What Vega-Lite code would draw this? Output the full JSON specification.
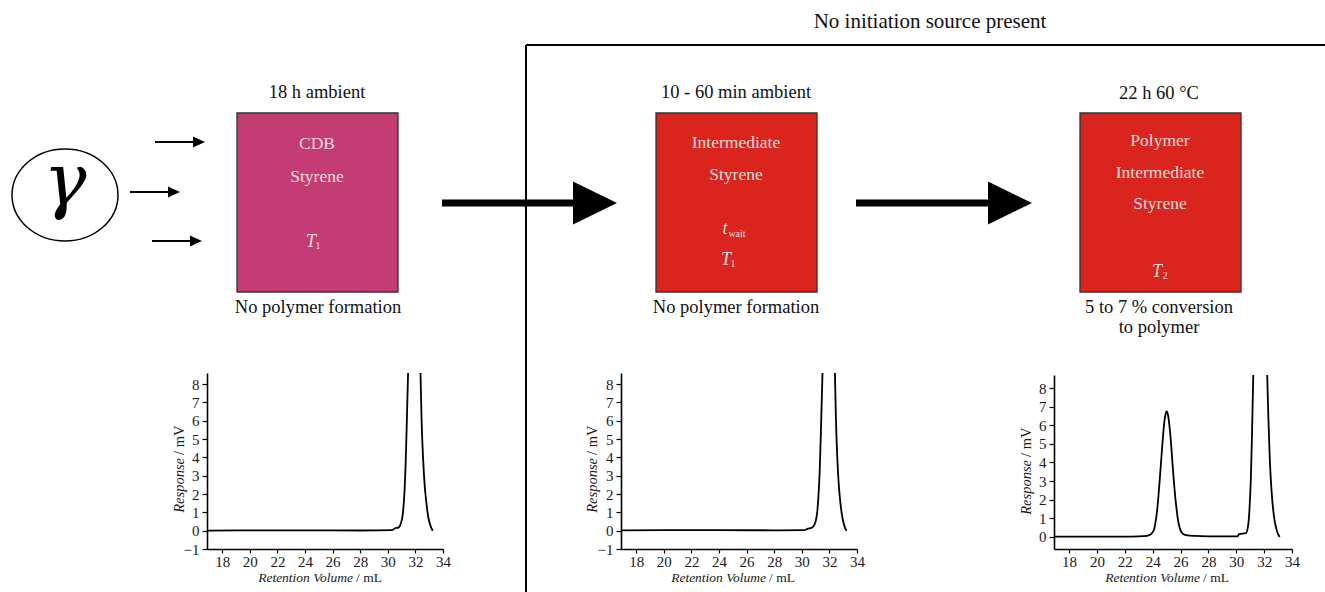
{
  "$schema": "https://vega.github.io/schema/vega-lite/v6.json",
  "width": 1325,
  "height": 592,
  "autosize": "none",
  "padding": 0,
  "background": "white",
  "config": {
    "view": {"stroke": null},
    "font": "Liberation Serif",
    "axis": {
      "domainColor": "black",
      "domainWidth": 1.6,
      "tickColor": "black",
      "tickWidth": 1.2,
      "labelFont": "Liberation Serif",
      "labelFontSize": 15,
      "labelColor": "#1a1a1a",
      "grid": false,
      "labelFlush": false,
      "labelOverlap": false,
      "title": null
    }
  },
  "datasets": {
    "frame": [
      {"x": 526, "y": 45, "x2": 1325, "y2": 45},
      {"x": 526, "y": 45, "x2": 526, "y2": 592}
    ],
    "boxes": [
      {"kind": "CDB", "x": 237, "x2": 398, "y": 113, "y2": 292},
      {"kind": "Intermediate", "x": 656, "x2": 817, "y": 113, "y2": 292},
      {"kind": "Intermediate", "x": 1080, "x2": 1241, "y": 113, "y2": 292}
    ],
    "shaftsSmall": [
      {"x": 155, "x2": 199, "y": 142},
      {"x": 130, "x2": 174, "y": 192},
      {"x": 152, "x2": 196, "y": 241}
    ],
    "headsSmall": [
      {"x": 199, "y": 142},
      {"x": 174, "y": 192},
      {"x": 196, "y": 241}
    ],
    "shaftsBig": [
      {"x": 442, "x2": 590, "y": 203},
      {"x": 856, "x2": 1005, "y": 203}
    ],
    "headsBig": [
      {"x": 595, "y": 203},
      {"x": 1010, "y": 203}
    ],
    "source": [{"x": 65, "y": 195, "t": "γ"}],
    "headline": [{"x": 930, "y": 22, "t": "No initiation source present"}],
    "captions": [
      {"x": 317, "y": 92, "t": "18 h ambient"},
      {"x": 318, "y": 307, "t": "No polymer formation"},
      {"x": 736, "y": 92, "t": "10 - 60 min ambient"},
      {"x": 736, "y": 307, "t": "No polymer formation"},
      {"x": 1159, "y": 93, "t": "22 h 60 °C"},
      {"x": 1159, "y": 307, "t": "5 to 7 % conversion"},
      {"x": 1159, "y": 327, "t": "to polymer"}
    ],
    "boxText": [
      {"x": 317, "y": 144, "t": "CDB"},
      {"x": 317, "y": 177, "t": "Styrene"},
      {"x": 736, "y": 143, "t": "Intermediate"},
      {"x": 736, "y": 175, "t": "Styrene"},
      {"x": 1160, "y": 141, "t": "Polymer"},
      {"x": 1160, "y": 173, "t": "Intermediate"},
      {"x": 1160, "y": 204, "t": "Styrene"}
    ],
    "boxSymbols": [
      {"x": 311, "y": 242, "t": "T"},
      {"x": 725, "y": 229, "t": "t"},
      {"x": 726, "y": 260, "t": "T"},
      {"x": 1157, "y": 272, "t": "T"}
    ],
    "boxSubscripts": [
      {"x": 318, "y": 246, "t": "1"},
      {"x": 737, "y": 234, "t": "wait"},
      {"x": 733, "y": 264, "t": "1"},
      {"x": 1165, "y": 276, "t": "2"}
    ],
    "xTitleItalic": [
      {"x": 353, "y": 578, "t": "Retention Volume"},
      {"x": 766, "y": 578, "t": "Retention Volume"},
      {"x": 1200, "y": 578, "t": "Retention Volume"}
    ],
    "xTitleRoman": [
      {"x": 356, "y": 578, "t": "/ mL"},
      {"x": 769, "y": 578, "t": "/ mL"},
      {"x": 1203, "y": 578, "t": "/ mL"}
    ],
    "yTitleItalic": [
      {"x": 180, "y": 458, "t": "Response"},
      {"x": 593, "y": 458, "t": "Response"},
      {"x": 1027, "y": 460, "t": "Response"}
    ],
    "yTitleRoman": [
      {"x": 180, "y": 455, "t": "/ mV"},
      {"x": 593, "y": 455, "t": "/ mV"},
      {"x": 1027, "y": 457, "t": "/ mV"}
    ],
    "gpc1": [
      {"s": "a", "v": 16.9, "r": 0},
      {"s": "a", "v": 20, "r": 0.02},
      {"s": "a", "v": 24, "r": 0.02},
      {"s": "a", "v": 28, "r": 0.01},
      {"s": "a", "v": 30.3, "r": 0.03},
      {"s": "a", "v": 30.5, "r": 0.12},
      {"s": "a", "v": 30.8, "r": 0.18},
      {"s": "a", "v": 30.95, "r": 0.4},
      {"s": "a", "v": 31.1, "r": 1.0},
      {"s": "a", "v": 31.2, "r": 2.0},
      {"s": "a", "v": 31.3, "r": 3.8},
      {"s": "a", "v": 31.38, "r": 6.0},
      {"s": "a", "v": 31.47, "r": 8.6},
      {"s": "b", "v": 32.37, "r": 8.6},
      {"s": "b", "v": 32.45, "r": 6.0},
      {"s": "b", "v": 32.56, "r": 3.9},
      {"s": "b", "v": 32.68, "r": 2.4},
      {"s": "b", "v": 32.8, "r": 1.5},
      {"s": "b", "v": 32.92, "r": 0.8},
      {"s": "b", "v": 33.04, "r": 0.4},
      {"s": "b", "v": 33.15, "r": 0.15},
      {"s": "b", "v": 33.26, "r": 0}
    ],
    "gpc2": [
      {"s": "a", "v": 16.9, "r": 0.02},
      {"s": "a", "v": 20, "r": 0.03},
      {"s": "a", "v": 24, "r": 0.03},
      {"s": "a", "v": 28, "r": 0.02},
      {"s": "a", "v": 30.2, "r": 0.03},
      {"s": "a", "v": 30.4, "r": 0.1},
      {"s": "a", "v": 30.7, "r": 0.15},
      {"s": "a", "v": 30.9, "r": 0.3},
      {"s": "a", "v": 31.1, "r": 0.9},
      {"s": "a", "v": 31.2, "r": 1.8},
      {"s": "a", "v": 31.3, "r": 3.3},
      {"s": "a", "v": 31.4, "r": 5.8},
      {"s": "a", "v": 31.5, "r": 8.6},
      {"s": "b", "v": 32.4, "r": 8.6},
      {"s": "b", "v": 32.47, "r": 6.2},
      {"s": "b", "v": 32.57, "r": 4.0},
      {"s": "b", "v": 32.68, "r": 2.5},
      {"s": "b", "v": 32.8, "r": 1.5},
      {"s": "b", "v": 32.92, "r": 0.8},
      {"s": "b", "v": 33.05, "r": 0.35},
      {"s": "b", "v": 33.15, "r": 0.12},
      {"s": "b", "v": 33.24, "r": 0}
    ],
    "gpc3": [
      {"s": "a", "v": 16.92, "r": 0.02},
      {"s": "a", "v": 20, "r": 0.02},
      {"s": "a", "v": 22, "r": 0.02},
      {"s": "a", "v": 23, "r": 0.03},
      {"s": "a", "v": 23.6, "r": 0.06},
      {"s": "a", "v": 23.8, "r": 0.11},
      {"s": "a", "v": 24.0, "r": 0.25},
      {"s": "a", "v": 24.1, "r": 0.4},
      {"s": "a", "v": 24.2, "r": 0.75},
      {"s": "a", "v": 24.3, "r": 1.3},
      {"s": "a", "v": 24.4, "r": 2.05},
      {"s": "a", "v": 24.5, "r": 3.0},
      {"s": "a", "v": 24.6, "r": 4.0},
      {"s": "a", "v": 24.7, "r": 5.0},
      {"s": "a", "v": 24.8, "r": 5.9},
      {"s": "a", "v": 24.9, "r": 6.5},
      {"s": "a", "v": 25.0, "r": 6.75},
      {"s": "a", "v": 25.1, "r": 6.55},
      {"s": "a", "v": 25.2, "r": 6.0},
      {"s": "a", "v": 25.3, "r": 5.2},
      {"s": "a", "v": 25.4, "r": 4.2},
      {"s": "a", "v": 25.5, "r": 3.2},
      {"s": "a", "v": 25.6, "r": 2.3},
      {"s": "a", "v": 25.7, "r": 1.6},
      {"s": "a", "v": 25.8, "r": 1.0},
      {"s": "a", "v": 25.9, "r": 0.6},
      {"s": "a", "v": 26.0, "r": 0.35},
      {"s": "a", "v": 26.2, "r": 0.15},
      {"s": "a", "v": 26.5, "r": 0.08},
      {"s": "a", "v": 27, "r": 0.05},
      {"s": "a", "v": 28, "r": 0.03},
      {"s": "a", "v": 30.1, "r": 0.03},
      {"s": "a", "v": 30.2, "r": 0.15},
      {"s": "a", "v": 30.7, "r": 0.2},
      {"s": "a", "v": 30.85, "r": 0.6},
      {"s": "a", "v": 30.95, "r": 1.5},
      {"s": "a", "v": 31.05, "r": 3.2},
      {"s": "a", "v": 31.13, "r": 5.5},
      {"s": "a", "v": 31.22, "r": 8.7},
      {"s": "b", "v": 32.22, "r": 8.7},
      {"s": "b", "v": 32.3, "r": 6.5},
      {"s": "b", "v": 32.41, "r": 4.1},
      {"s": "b", "v": 32.53, "r": 2.5},
      {"s": "b", "v": 32.65, "r": 1.45},
      {"s": "b", "v": 32.77, "r": 0.8},
      {"s": "b", "v": 32.89, "r": 0.4},
      {"s": "b", "v": 33.0, "r": 0.15},
      {"s": "b", "v": 33.12, "r": 0}
    ]
  },
  "resolve": {
    "scale": {"x": "independent", "y": "independent"},
    "axis": {"x": "independent", "y": "independent"}
  },
  "layer": [
    {
      "layer": [
        {
          "data": {"name": "boxes"},
          "mark": {"type": "rect", "stroke": "#333333", "strokeWidth": 1.3},
          "encoding": {
            "x": {"field": "x", "type": "quantitative", "scale": {"domain": [0, 1325], "range": [0, 1325], "nice": false, "zero": false}, "axis": null},
            "x2": {"field": "x2"},
            "y": {"field": "y", "type": "quantitative", "scale": {"domain": [0, 592], "range": [0, 592], "nice": false, "zero": false}, "axis": null},
            "y2": {"field": "y2"},
            "color": {"field": "kind", "type": "nominal", "scale": {"domain": ["CDB", "Intermediate"], "range": ["#C33C73", "#D9251E"]}, "legend": null}
          }
        },
        {
          "data": {"name": "frame"},
          "mark": {"type": "rule", "color": "black", "strokeWidth": 2},
          "encoding": {
            "x": {"field": "x", "type": "quantitative", "scale": {"domain": [0, 1325], "range": [0, 1325], "nice": false, "zero": false}, "axis": null},
            "x2": {"field": "x2"},
            "y": {"field": "y", "type": "quantitative", "scale": {"domain": [0, 592], "range": [0, 592], "nice": false, "zero": false}, "axis": null},
            "y2": {"field": "y2"}
          }
        },
        {
          "data": {"name": "shaftsSmall"},
          "mark": {"type": "rule", "color": "black", "strokeWidth": 2},
          "encoding": {
            "x": {"field": "x", "type": "quantitative", "axis": null},
            "x2": {"field": "x2"},
            "y": {"field": "y", "type": "quantitative", "axis": null}
          }
        },
        {
          "data": {"name": "headsSmall"},
          "mark": {"type": "point", "shape": "M -1 -0.9 L 1 0 L -1 0.9 Z", "filled": true, "color": "black", "opacity": 1, "size": 144},
          "encoding": {
            "x": {"field": "x", "type": "quantitative", "axis": null},
            "y": {"field": "y", "type": "quantitative", "axis": null}
          }
        },
        {
          "data": {"name": "shaftsBig"},
          "mark": {"type": "rule", "color": "black", "strokeWidth": 7},
          "encoding": {
            "x": {"field": "x", "type": "quantitative", "axis": null},
            "x2": {"field": "x2"},
            "y": {"field": "y", "type": "quantitative", "axis": null}
          }
        },
        {
          "data": {"name": "headsBig"},
          "mark": {"type": "point", "shape": "M -1 -0.98 L 1 0 L -1 0.98 Z", "filled": true, "color": "black", "opacity": 1, "size": 1936},
          "encoding": {
            "x": {"field": "x", "type": "quantitative", "axis": null},
            "y": {"field": "y", "type": "quantitative", "axis": null}
          }
        },
        {
          "data": {"name": "source"},
          "mark": {"type": "point", "shape": "M -1 0 A 1 0.868 0 1 1 1 0 A 1 0.868 0 1 1 -1 0 Z", "filled": false, "stroke": "black", "strokeWidth": 1.5, "opacity": 1, "size": 11236},
          "encoding": {
            "x": {"field": "x", "type": "quantitative", "axis": null},
            "y": {"field": "y", "type": "quantitative", "axis": null}
          }
        },
        {
          "data": {"name": "source"},
          "mark": {"type": "text", "font": "DejaVu Serif", "fontSize": 72, "fontStyle": "italic", "color": "black", "baseline": "alphabetic", "align": "center", "dy": 10},
          "encoding": {
            "x": {"field": "x", "type": "quantitative", "axis": null},
            "y": {"field": "y", "type": "quantitative", "axis": null},
            "text": {"field": "t"}
          }
        },
        {
          "data": {"name": "headline"},
          "mark": {"type": "text", "font": "Liberation Serif", "fontSize": 21, "color": "#111111", "baseline": "middle", "align": "center"},
          "encoding": {
            "x": {"field": "x", "type": "quantitative", "axis": null},
            "y": {"field": "y", "type": "quantitative", "axis": null},
            "text": {"field": "t"}
          }
        },
        {
          "data": {"name": "captions"},
          "mark": {"type": "text", "font": "Liberation Serif", "fontSize": 18.5, "color": "#111111", "baseline": "middle", "align": "center"},
          "encoding": {
            "x": {"field": "x", "type": "quantitative", "axis": null},
            "y": {"field": "y", "type": "quantitative", "axis": null},
            "text": {"field": "t"}
          }
        },
        {
          "data": {"name": "boxText"},
          "mark": {"type": "text", "font": "Liberation Serif", "fontSize": 17.5, "color": "#F7DCDC", "baseline": "middle", "align": "center"},
          "encoding": {
            "x": {"field": "x", "type": "quantitative", "axis": null},
            "y": {"field": "y", "type": "quantitative", "axis": null},
            "text": {"field": "t"}
          }
        },
        {
          "data": {"name": "boxSymbols"},
          "mark": {"type": "text", "font": "Liberation Serif", "fontSize": 18, "fontStyle": "italic", "color": "#F7DCDC", "baseline": "middle", "align": "center"},
          "encoding": {
            "x": {"field": "x", "type": "quantitative", "axis": null},
            "y": {"field": "y", "type": "quantitative", "axis": null},
            "text": {"field": "t"}
          }
        },
        {
          "data": {"name": "boxSubscripts"},
          "mark": {"type": "text", "font": "Liberation Serif", "fontSize": 10, "color": "#F7DCDC", "baseline": "middle", "align": "center"},
          "encoding": {
            "x": {"field": "x", "type": "quantitative", "axis": null},
            "y": {"field": "y", "type": "quantitative", "axis": null},
            "text": {"field": "t"}
          }
        },
        {
          "data": {"name": "xTitleItalic"},
          "mark": {"type": "text", "font": "Liberation Serif", "fontSize": 13.5, "fontStyle": "italic", "color": "#1a1a1a", "baseline": "middle", "align": "right"},
          "encoding": {
            "x": {"field": "x", "type": "quantitative", "axis": null},
            "y": {"field": "y", "type": "quantitative", "axis": null},
            "text": {"field": "t"}
          }
        },
        {
          "data": {"name": "xTitleRoman"},
          "mark": {"type": "text", "font": "Liberation Serif", "fontSize": 13.5, "color": "#1a1a1a", "baseline": "middle", "align": "left"},
          "encoding": {
            "x": {"field": "x", "type": "quantitative", "axis": null},
            "y": {"field": "y", "type": "quantitative", "axis": null},
            "text": {"field": "t"}
          }
        },
        {
          "data": {"name": "yTitleItalic"},
          "mark": {"type": "text", "font": "Liberation Serif", "fontSize": 14.5, "fontStyle": "italic", "color": "#1a1a1a", "baseline": "middle", "align": "right", "angle": 270},
          "encoding": {
            "x": {"field": "x", "type": "quantitative", "axis": null},
            "y": {"field": "y", "type": "quantitative", "axis": null},
            "text": {"field": "t"}
          }
        },
        {
          "data": {"name": "yTitleRoman"},
          "mark": {"type": "text", "font": "Liberation Serif", "fontSize": 14.5, "color": "#1a1a1a", "baseline": "middle", "align": "left", "angle": 270},
          "encoding": {
            "x": {"field": "x", "type": "quantitative", "axis": null},
            "y": {"field": "y", "type": "quantitative", "axis": null},
            "text": {"field": "t"}
          }
        }
      ]
    },
    {
      "data": {"name": "gpc1"},
      "mark": {"type": "line", "color": "black", "strokeWidth": 1.8, "interpolate": "monotone"},
      "encoding": {
        "x": {"field": "v", "type": "quantitative", "scale": {"domain": [16.9, 34], "range": [207, 443], "nice": false, "zero": false},
              "axis": {"orient": "bottom", "offset": -43, "values": [18, 20, 22, 24, 26, 28, 30, 32, 34], "tickSize": 4, "labelPadding": 1, "labelFontSize": 15}},
        "y": {"field": "r", "type": "quantitative", "scale": {"domain": [-1, 8.6], "range": [549, 373], "nice": false, "zero": false},
              "axis": {"orient": "left", "offset": -207, "values": [-1, 0, 1, 2, 3, 4, 5, 6, 7, 8], "tickSize": 5, "labelPadding": 3, "labelFontSize": 15}},
        "detail": {"field": "s"}
      }
    },
    {
      "data": {"name": "gpc2"},
      "mark": {"type": "line", "color": "black", "strokeWidth": 1.8, "interpolate": "monotone"},
      "encoding": {
        "x": {"field": "v", "type": "quantitative", "scale": {"domain": [16.9, 34], "range": [621, 857], "nice": false, "zero": false},
              "axis": {"orient": "bottom", "offset": -43, "values": [18, 20, 22, 24, 26, 28, 30, 32, 34], "tickSize": 4, "labelPadding": 1, "labelFontSize": 15}},
        "y": {"field": "r", "type": "quantitative", "scale": {"domain": [-1, 8.6], "range": [549, 373], "nice": false, "zero": false},
              "axis": {"orient": "left", "offset": -621, "values": [-1, 0, 1, 2, 3, 4, 5, 6, 7, 8], "tickSize": 5, "labelPadding": 3, "labelFontSize": 15}},
        "detail": {"field": "s"}
      }
    },
    {
      "data": {"name": "gpc3"},
      "mark": {"type": "line", "color": "black", "strokeWidth": 1.8, "interpolate": "monotone"},
      "encoding": {
        "x": {"field": "v", "type": "quantitative", "scale": {"domain": [16.92, 34], "range": [1054, 1292], "nice": false, "zero": false},
              "axis": {"orient": "bottom", "offset": -43, "values": [18, 20, 22, 24, 26, 28, 30, 32, 34], "tickSize": 4, "labelPadding": 1, "labelFontSize": 15}},
        "y": {"field": "r", "type": "quantitative", "scale": {"domain": [-0.65, 8.7], "range": [549, 375], "nice": false, "zero": false},
              "axis": {"orient": "left", "offset": -1054, "values": [0, 1, 2, 3, 4, 5, 6, 7, 8], "tickSize": 5, "labelPadding": 3, "labelFontSize": 15}},
        "detail": {"field": "s"}
      }
    }
  ]
}
